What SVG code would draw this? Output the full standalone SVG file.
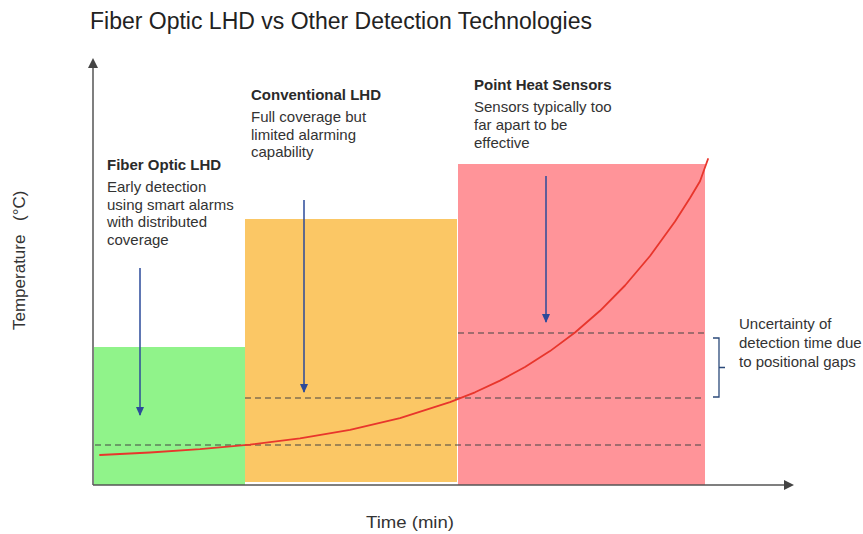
<svg xmlns="http://www.w3.org/2000/svg" width="863" height="534" viewBox="0 0 863 534">
  <style>
    .title { font-family: "Liberation Sans", Arial, sans-serif; font-size: 23px; fill: #222; }
    .head { font-family: "Liberation Sans", Arial, sans-serif; font-size: 15px; font-weight: bold; fill: #2a2a2a; }
    .body { font-family: "Liberation Sans", Arial, sans-serif; font-size: 15px; fill: #333; }
    .axislabel { font-family: "Liberation Sans", Arial, sans-serif; font-size: 16px; fill: #333; }
    .axis { stroke: #555; stroke-width: 1.5; fill: none; }
    .dash { stroke: #444; stroke-width: 1.2; stroke-dasharray: 6 4; fill: none; }
    .pointer { stroke: #2b4a9a; stroke-width: 1.5; fill: none; }
  </style>
  <defs>
    <marker id="axisHead" markerWidth="10" markerHeight="10" refX="8" refY="5" orient="auto" markerUnits="userSpaceOnUse">
      <path d="M0,0 L10,5 L0,10 Z" fill="#444"/>
    </marker>
    <marker id="blueHead" markerWidth="10" markerHeight="10" refX="8" refY="5" orient="auto" markerUnits="userSpaceOnUse">
      <path d="M0,1 L9,5 L0,9 Z" fill="#2b4a9a"/>
    </marker>
  </defs>

  <rect width="863" height="534" fill="#ffffff"/>

  <text class="title" x="90" y="29">Fiber Optic LHD vs Other Detection Technologies</text>

  <!-- technology zones -->
  <g id="zone-fiber">
    <rect x="94" y="347" width="151" height="138" fill="#90f38a"/>
  </g>
  <g id="zone-conventional">
    <rect x="245" y="219" width="212" height="263" fill="#fbc765"/>
  </g>
  <g id="zone-point">
    <rect x="458" y="164" width="247" height="321" fill="#ff9499"/>
  </g>

  <!-- alarm thresholds -->
  <g id="thresholds">
    <line class="dash" x1="95" y1="445" x2="705" y2="445"/>
    <line class="dash" x1="245" y1="398" x2="705" y2="398"/>
    <line class="dash" x1="458" y1="333" x2="705" y2="333"/>
  </g>

  <!-- temperature rise curve -->
  <g id="curve">
    <polyline fill="none" stroke="#e8362c" stroke-width="1.8" stroke-linejoin="round" stroke-linecap="round"
      points="100,455 150,452.5 200,449.2 250,444.6 300,438.3 350,429.8 400,418.1 450,402.2 475,392.3 500,380.6 525,367 550,351.1 575,332.5 600,310.8 625,285.5 650,256 675,221.5 690,198 700,181.2 708,159"/>
  </g>

  <!-- axes -->
  <g id="axes">
    <line class="axis" x1="93" y1="485" x2="93" y2="60" marker-end="url(#axisHead)"/>
    <line class="axis" x1="93" y1="485" x2="792" y2="485" marker-end="url(#axisHead)"/>
  </g>

  <!-- connectors: detection pointers and the uncertainty bracket -->
  <g id="connectors">
    <line class="pointer" x1="140" y1="268" x2="140" y2="415" marker-end="url(#blueHead)"/>
    <line class="pointer" x1="304" y1="200" x2="304" y2="392" marker-end="url(#blueHead)"/>
    <line class="pointer" x1="546" y1="176" x2="546" y2="322" marker-end="url(#blueHead)"/>
    <path d="M713,338 H719 V397 H713 M719,367.5 H725" stroke="#2b4a7a" stroke-width="1.3" fill="none"/>
  </g>

  <g id="label-fiber">
    <text class="head" x="107" y="169.5">Fiber Optic LHD</text>
    <text class="body" x="107" y="192">Early detection</text>
    <text class="body" x="107" y="209.5">using smart alarms</text>
    <text class="body" x="107" y="227">with distributed</text>
    <text class="body" x="107" y="244.5">coverage</text>
  </g>
  <g id="label-conventional">
    <text class="head" x="251" y="99.5">Conventional LHD</text>
    <text class="body" x="251" y="122">Full coverage but</text>
    <text class="body" x="251" y="140">limited alarming</text>
    <text class="body" x="251" y="157">capability</text>
  </g>
  <g id="label-point">
    <text class="head" x="474" y="90">Point Heat Sensors</text>
    <text class="body" x="474" y="112">Sensors typically too</text>
    <text class="body" x="474" y="130">far apart to be</text>
    <text class="body" x="474" y="148">effective</text>
  </g>
  <g id="label-uncertainty">
    <text class="body" x="739" y="329">Uncertainty of</text>
    <text class="body" x="739" y="348">detection time due</text>
    <text class="body" x="739" y="367">to positional gaps</text>
  </g>

  <text class="axislabel" x="366" y="528" textLength="88" lengthAdjust="spacingAndGlyphs">Time (min)</text>
  <text class="axislabel" transform="rotate(-90)" x="-330" y="25" style="font-size:17px">Temperature<tspan x="-221">(°C)</tspan></text>
</svg>
